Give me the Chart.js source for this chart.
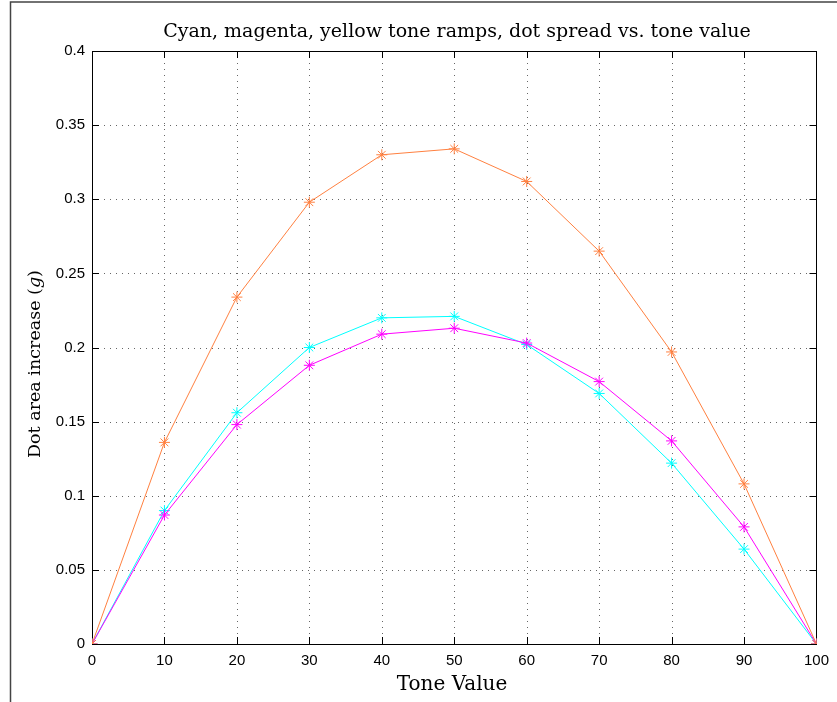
<!DOCTYPE html>
<html>
<head>
<meta charset="utf-8">
<script src="https://cdn.jsdelivr.net/npm/chart.js"></script>
<style>
  html, body { margin: 0; padding: 0; background: #fff; }
  canvas { display: block; }
</style>
</head>
<body>
<canvas id="toneChart" width="837" height="702"></canvas>
<script>
// tone values (x) and dot area increase per ink
const tones = [0, 10, 20, 30, 40, 50, 60, 70, 80, 90, 100];
const yellowVals  = [0, 0.136, 0.234, 0.298, 0.330, 0.334, 0.312, 0.265, 0.197, 0.108, 0];
const magentaVals = [0, 0.087, 0.148, 0.188, 0.209, 0.213, 0.203, 0.177, 0.137, 0.079, 0];
const cyanVals    = [0, 0.090, 0.156, 0.200, 0.220, 0.221, 0.202, 0.169, 0.122, 0.064, 0];
const xTicks = [0, 10, 20, 30, 40, 50, 60, 70, 80, 90, 100];
const yTicks = [0, 0.05, 0.1, 0.15, 0.2, 0.25, 0.3, 0.35, 0.4];

const toPoints = vals => tones.map((t, i) => ({ x: t, y: vals[i] }));

function series(label, vals, color) {
    return {
        label: label,
        data: toPoints(vals),
        borderColor: color,
        backgroundColor: color,
        borderWidth: 1,
        pointStyle: 'star',
        pointRadius: 5.5,
        pointBorderWidth: 1,
        pointHoverRadius: 5.5,
        tension: 0
    };
}

const SERIF = '"DejaVu Serif", "Liberation Serif", serif';

// axes box, dotted grid, inward ticks, titles and the outer frame
const matlabAxes = {
    id: 'matlabAxes',
    beforeDatasetsDraw(chart) {
        const { ctx, chartArea: a, scales } = chart;
        const xs = scales.x, ys = scales.y;
        ctx.save();
        // outer frame lines
        ctx.strokeStyle = '#444';
        ctx.lineWidth = 1.5;
        ctx.beginPath();
        ctx.moveTo(10.5, 702);
        ctx.lineTo(10.5, 2);
        ctx.lineTo(837, 2);
        ctx.stroke();

        // dotted grid
        ctx.strokeStyle = '#666';
        ctx.lineWidth = 1;
        ctx.setLineDash([1, 5]);
        xTicks.slice(1, -1).forEach(v => {
            const px = Math.round(xs.getPixelForValue(v)) + 0.5;
            ctx.beginPath(); ctx.moveTo(px, a.top); ctx.lineTo(px, a.bottom); ctx.stroke();
        });
        yTicks.slice(1, -1).forEach(v => {
            const py = Math.round(ys.getPixelForValue(v)) + 0.5;
            ctx.beginPath(); ctx.moveTo(a.left, py); ctx.lineTo(a.right, py); ctx.stroke();
        });
        ctx.setLineDash([]);

        // box + inward ticks
        ctx.strokeStyle = '#000';
        ctx.lineWidth = 1;
        ctx.strokeRect(Math.round(a.left) + 0.5, Math.round(a.top) + 0.5,
                       Math.round(a.right - a.left), Math.round(a.bottom - a.top));
        const tl = 7;
        xTicks.forEach(v => {
            const px = Math.round(xs.getPixelForValue(v)) + 0.5;
            ctx.beginPath();
            ctx.moveTo(px, a.bottom); ctx.lineTo(px, a.bottom - tl);
            ctx.moveTo(px, a.top); ctx.lineTo(px, a.top + tl);
            ctx.stroke();
        });
        yTicks.forEach(v => {
            const py = Math.round(ys.getPixelForValue(v)) + 0.5;
            ctx.beginPath();
            ctx.moveTo(a.left, py); ctx.lineTo(a.left + tl, py);
            ctx.moveTo(a.right, py); ctx.lineTo(a.right - tl, py);
            ctx.stroke();
        });

        // title
        ctx.fillStyle = '#000';
        ctx.textBaseline = 'alphabetic';
        ctx.textAlign = 'center';
        ctx.font = '19px ' + SERIF;
        ctx.fillText('Cyan, magenta, yellow tone ramps, dot spread vs. tone value', 457, 37);

        // x title
        ctx.font = '20px ' + SERIF;
        ctx.fillText('Tone Value', 452, 690);

        // y title with italic g
        const parts = [
            ['Dot area increase (', '17.5px ' + SERIF],
            ['g', 'italic 17.5px ' + SERIF],
            [')', '17.5px ' + SERIF]
        ];
        let total = 0;
        parts.forEach(p => { ctx.font = p[1]; total += ctx.measureText(p[0]).width; });
        ctx.translate(40, 364);
        ctx.rotate(-Math.PI / 2);
        ctx.textAlign = 'left';
        let cx = -total / 2;
        parts.forEach(p => {
            ctx.font = p[1];
            ctx.fillText(p[0], cx, 0);
            cx += ctx.measureText(p[0]).width;
        });
        ctx.restore();
    }
};

new Chart(document.getElementById('toneChart'), {
    type: 'line',
    data: {
        datasets: [
            series('Yellow', yellowVals, '#ff8040'),
            series('Magenta', magentaVals, '#ff00ff'),
            series('Cyan', cyanVals, '#00ffff')
        ]
    },
    options: {
        responsive: false,
        animation: false,
        layout: { padding: { left: 0, top: 51, right: 20, bottom: 0 } },
        plugins: {
            legend: { display: false },
            title: { display: false },
            tooltip: { enabled: false }
        },
        scales: {
            x: {
                type: 'linear',
                min: 0, max: 100,
                grid: { display: false, drawTicks: false },
                border: { display: false },
                afterBuildTicks: s => { s.ticks = xTicks.map(v => ({ value: v })); },
                afterFit: s => { s.height = 58; },
                ticks: {
                    color: '#000',
                    padding: 8,
                    maxRotation: 0,
                    font: { family: '"Liberation Sans", Arial, sans-serif', size: 15 }
                }
            },
            y: {
                type: 'linear',
                min: 0, max: 0.4,
                grid: { display: false, drawTicks: false },
                border: { display: false },
                afterBuildTicks: s => { s.ticks = yTicks.map(v => ({ value: v })); },
                afterFit: s => { s.width = 92; },
                ticks: {
                    color: '#000',
                    padding: 7,
                    font: { family: '"Liberation Sans", Arial, sans-serif', size: 15 },
                    callback: v => String(+v.toFixed(2))
                }
            }
        }
    },
    plugins: [matlabAxes]
});
</script>
</body>
</html>
